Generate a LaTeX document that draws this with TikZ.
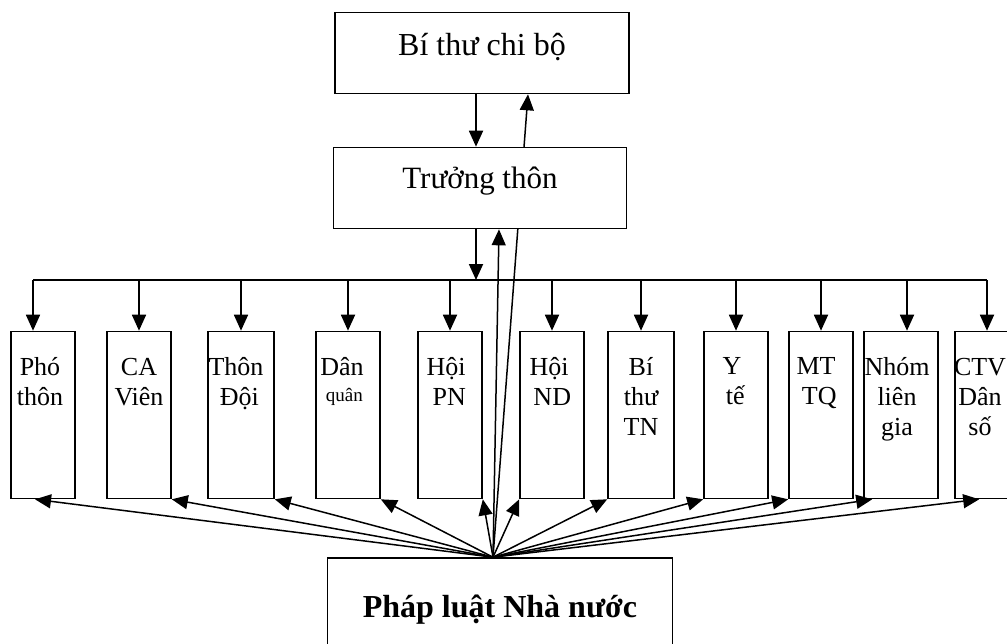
\documentclass[tikz,border=0pt]{standalone}
\usepackage{fontspec}
\setmainfont{Liberation Serif}
\usetikzlibrary{calc,positioning,arrows.meta,backgrounds}

\begin{document}
\begin{tikzpicture}[x=1pt,y=-1pt]
	\tikzstyle{chief}=[draw, line width=1.6pt, fill=white, minimum width=294pt, minimum height=81pt, inner sep=0pt, font=\fontsize{32}{38}\selectfont, text height=22pt, text depth=17pt]
	\tikzstyle{unit}=[draw, line width=1.6pt, fill=white, minimum height=167pt, minimum width=64pt, inner sep=0pt]
	\tikzstyle{unittext}=[anchor=north, align=center, inner sep=0pt, font=\fontsize{26}{30}\selectfont]
	\tikzstyle{order}=[-{Triangle[length=16pt,width=14pt]}, line width=1.8pt]
	\tikzstyle{law}=[order, line width=1.5pt]

	\useasboundingbox (0,0) rectangle (1007,643);

	\node (bt) [chief] at (482,53) {Bí thư chi bộ};
	\node (tt) [chief, minimum width=293pt, font=\fontsize{31}{37}\selectfont, text height=20pt, text depth=19pt] at (480,188) {Trưởng thôn};

	\node (pho) [unit] at (43,415) {};
	\node (ca) [unit] at (139,415) {};
	\node (doi) [unit, minimum width=66pt] at (241,415) {};
	\node (dq) [unit] at (348,415) {};
	\node (pn) [unit] at (450,415) {};
	\node (nd) [unit] at (552,415) {};
	\node (tn) [unit, minimum width=66pt] at (641,415) {};
	\node (yt) [unit] at (736,415) {};
	\node (mt) [unit] at (821,415) {};
	\node (nhom) [unit, minimum width=74pt] at (901,415) {};
	\node (ctv) [unit] at (987,415) {};

	\node (pho-t) [unittext] at ($(pho.north)+(-3,27)$) {Phó\\thôn};
	\node (ca-t) [unittext] at ($(ca.north)+(0,27)$) {CA\\Viên};
	\node (doi-t) [unittext] at ($(doi.north)+(-5,27)$) {Thôn\\\ Đội};
	\node (dq-t) [unittext] at ($(dq.north)+(-6,27)$) {Dân\\[-4pt]{\fontsize{19}{24}\selectfont\ quân}};
	\node (pn-t) [unittext] at ($(pn.north)+(-4,27)$) {Hội\\\ PN};
	\node (nd-t) [unittext] at ($(nd.north)+(-3,27)$) {Hội\\\ ND};
	\node (tn-t) [unittext] at ($(tn.north)+(0,27)$) {Bí\\thư\\TN};
	\node (yt-t) [unittext] at ($(yt.north)+(-4,27)$) {Y\\\ tế};
	\node (mt-t) [unittext] at ($(mt.north)+(-5,27)$) {MT\\\ TQ};
	\node (nhom-t) [unittext] at ($(nhom.north)+(-4,27)$) {Nhóm\\liên\\gia};
	\node (ctv-t) [unittext] at ($(ctv.north)+(-7,27)$) {CTV\\Dân\\số};

	\node (law) [chief, minimum width=345pt, minimum height=122pt, font=\bfseries\fontsize{32}{38}\selectfont, text height=21pt, text depth=25pt] at (500,619) {Pháp luật Nhà nước};

	\coordinate (bus) at (0,280);
	\coordinate (pho-in) at ($(pho.north)+(-10,0)$);
	\coordinate (nhom-in) at ($(nhom.north)+(6,0)$);
	\coordinate (bt-out) at ($(bt.south)+(-6,0)$);
	\coordinate (tt-out) at ($(tt.south)+(-4,0)$);
	\coordinate (apex) at ($(law.north)+(-7,0)$);

	% chain of command
	\draw[order] (bt-out) -- (bt-out |- tt.north);
	\draw[order] (tt-out) -- (tt-out |- bus);
	\draw[line width=1.8pt] (pho-in |- bus) -- (ctv.north |- bus);
	\draw[order] (pho-in |- bus) -- (pho-in);
	\draw[order] (ca.north |- bus) -- (ca.north);
	\draw[order] (doi.north |- bus) -- (doi.north);
	\draw[order] (dq.north |- bus) -- (dq.north);
	\draw[order] (pn.north |- bus) -- (pn.north);
	\draw[order] (nd.north |- bus) -- (nd.north);
	\draw[order] (tn.north |- bus) -- (tn.north);
	\draw[order] (yt.north |- bus) -- (yt.north);
	\draw[order] (mt.north |- bus) -- (mt.north);
	\draw[order] (nhom-in |- bus) -- (nhom-in);
	\draw[order] (ctv.north |- bus) -- (ctv.north);

	% law reaches every unit
	\draw[law] (apex) -- ($(pho.south)+(-8,0)$);
	\draw[law] (apex) -- (ca.south east);
	\draw[law] (apex) -- (doi.south east);
	\draw[law] (apex) -- (dq.south east);
	\draw[law] (apex) -- (pn.south east);
	\draw[law] (apex) -- (nd.south west);
	\draw[law] (apex) -- (tn.south west);
	\draw[law] (apex) -- (yt.south west);
	\draw[law] (apex) -- (mt.south west);
	\draw[law] (apex) -- ($(nhom.south west)+(9,0)$);
	\draw[law] (apex) -- ($(ctv.south west)+(25,0)$);
	\draw[law] (apex) -- ($(tt.south)+(19,0)$);
	\begin{scope}[on background layer]
		\draw[law] (apex) -- ($(bt.south)+(46,0)$);
	\end{scope}
\end{tikzpicture}
\end{document}
